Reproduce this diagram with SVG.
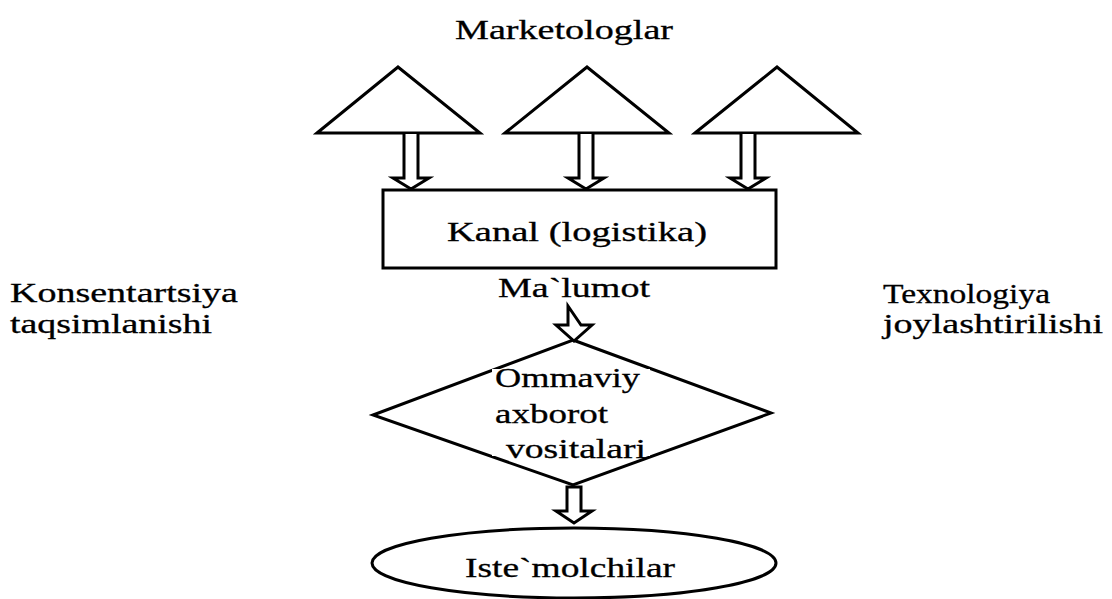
<svg xmlns="http://www.w3.org/2000/svg" width="1112" height="599" viewBox="0 0 1112 599">
<style>
.s{fill:#fff;stroke:#000;stroke-width:3;stroke-linejoin:miter}
.a{fill:#fff;stroke:#000;stroke-width:3}
.t{font-family:'Liberation Serif','DejaVu Serif','Times New Roman',serif;font-size:27px;fill:#000;stroke:#000;stroke-width:0.3}
</style>
<rect width="1112" height="599" fill="#fff"/>
<g id="title"><text class="t" x="455" y="39" textLength="218" lengthAdjust="spacingAndGlyphs">Marketologlar</text></g>
<g id="tri1"><polygon class="s" points="317,133 398,67 480,133"/></g>
<g id="tri2"><polygon class="s" points="505,133 587,67 669,133"/></g>
<g id="tri3"><polygon class="s" points="695,133 777,67 858,133"/></g>
<g id="kanal">
<rect class="s" x="383" y="190" width="393" height="78"/>
<text class="t" x="447" y="241" textLength="260" lengthAdjust="spacingAndGlyphs">Kanal (logistika)</text>
</g>
<g id="malumot"><text class="t" x="498" y="297" textLength="152" lengthAdjust="spacingAndGlyphs">Ma`lumot</text></g>
<g id="oav">
<polygon class="s" points="573,340 771,413 573,485 373,415"/>
<rect x="492" y="369" width="158" height="87" fill="#fff"/>
<text class="t" x="495" y="387" textLength="145" lengthAdjust="spacingAndGlyphs">Ommaviy</text>
<text class="t" x="495" y="423" textLength="113" lengthAdjust="spacingAndGlyphs">axborot</text>
<text class="t" x="506" y="458" textLength="140" lengthAdjust="spacingAndGlyphs">vositalari</text>
</g>
<g id="istemolchilar">
<ellipse class="s" cx="574" cy="563" rx="202" ry="35"/>
<text class="t" x="465" y="577" textLength="210" lengthAdjust="spacingAndGlyphs">Iste`molchilar</text>
</g>
<g id="konsentratsiya">
<text class="t" x="10" y="302" textLength="228" lengthAdjust="spacingAndGlyphs">Konsentartsiya</text>
<text class="t" x="10" y="333" textLength="202" lengthAdjust="spacingAndGlyphs">taqsimlanishi</text>
</g>
<g id="texnologiya">
<text class="t" x="883" y="303" textLength="167" lengthAdjust="spacingAndGlyphs">Texnologiya</text>
<text class="t" x="883" y="333" textLength="220" lengthAdjust="spacingAndGlyphs">joylashtirilishi</text>
</g>
<g id="connectors">
<path class="a" d="M404,134 V178 H393 L411,189 L429,178 H418 V134"/>
<path class="a" d="M579,134 V178 H568 L586,189 L604,178 H593 V134"/>
<path class="a" d="M741,134 V178 H730 L748,189 L766,178 H755 V134"/>
<path class="a" d="M568,306 V325 H556 L574,341 L592,325 H581 Z"/>
<path class="a" d="M567,487 V511 H556 L574,523 L592,511 H581 V487 Z"/>
</g>
</svg>
